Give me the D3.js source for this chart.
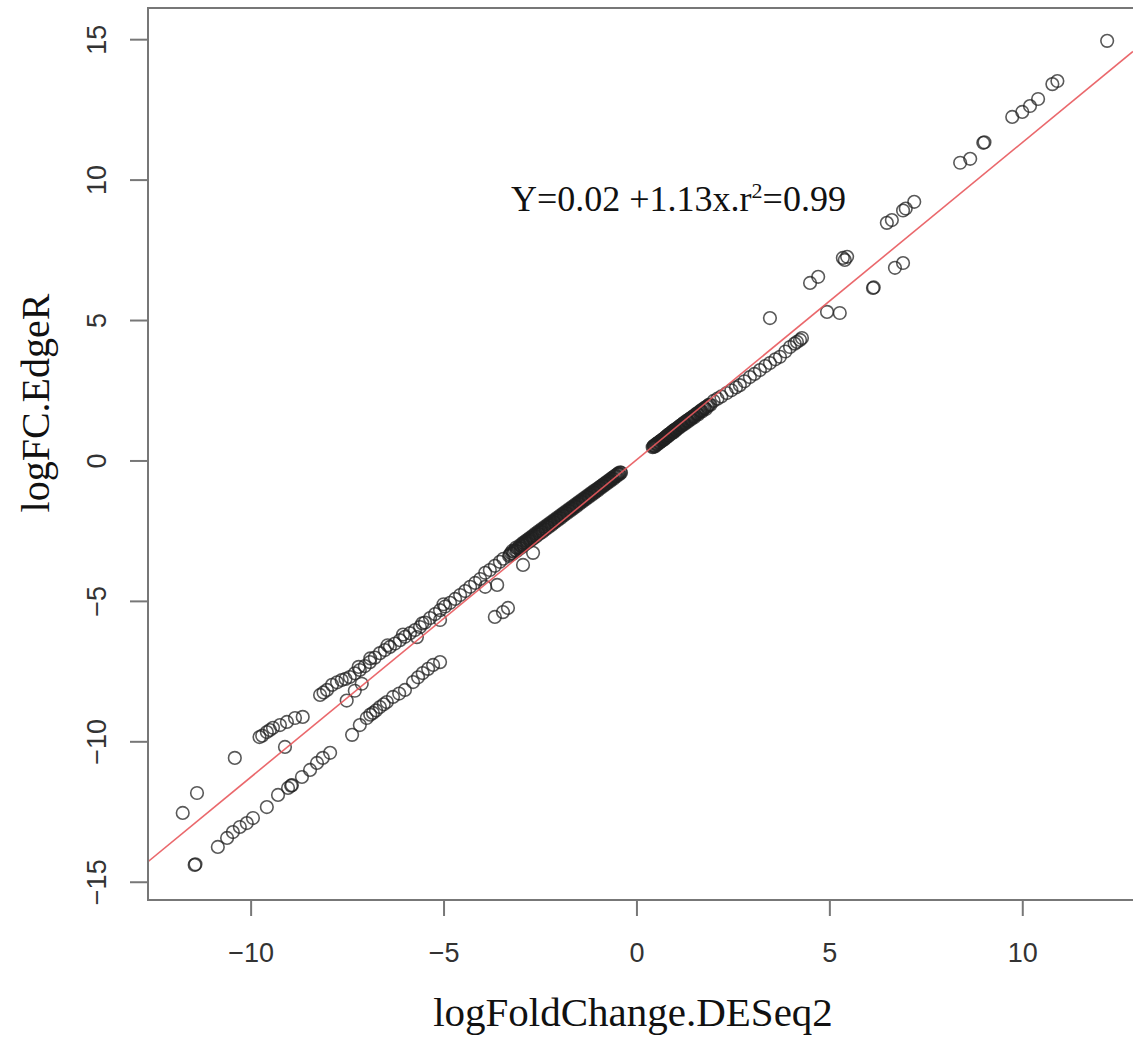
<!DOCTYPE html>
<html>
<head>
<meta charset="utf-8">
<script src="https://cdn.jsdelivr.net/npm/d3@7"></script>
<style>
  html, body { margin: 0; padding: 0; background: #fff; }
  svg { display: block; }
</style>
</head>
<body>
<svg id="chart" width="1133" height="1038"></svg>
<script>
// ---- data (DESeq2 log fold change, EdgeR logFC) ----
var xTickValues = [-10, -5, 0, 5, 10]
var yTickValues = [-15, -10, -5, 0, 5, 10, 15]
var xTitle = 'logFoldChange.DESeq2'
var yTitle = 'logFC.EdgeR'
var fitIntercept = 0.02
var fitSlope = 1.13

// thick band of down-regulated genes next to zero
var denseNeg = [
  [-0.40,-0.44],[-0.44,-0.49],[-0.48,-0.48],[-0.52,-0.57],[-0.56,-0.57],[-0.60,-0.66],
  [-0.64,-0.64],[-0.68,-0.74],[-0.72,-0.73],[-0.76,-0.82],[-0.80,-0.81],[-0.84,-0.90],
  [-0.88,-0.89],[-0.92,-0.98],[-0.96,-0.97],[-1.00,-1.07],[-1.04,-1.05],[-1.08,-1.15],
  [-1.12,-1.13],[-1.16,-1.23],[-1.20,-1.21],[-1.24,-1.31],[-1.28,-1.30],[-1.32,-1.39],
  [-1.36,-1.38],[-1.40,-1.47],[-1.44,-1.46],[-1.48,-1.55],[-1.52,-1.53],[-1.56,-1.64],
  [-1.60,-1.62],[-1.64,-1.72],[-1.68,-1.70],[-1.72,-1.80],[-1.76,-1.78],[-1.80,-1.88],
  [-1.84,-1.86],[-1.88,-1.96],[-1.92,-1.94],[-1.96,-2.05],[-2.00,-2.02],[-2.04,-2.13],
  [-2.08,-2.10],[-2.12,-2.21],[-2.16,-2.18],[-2.20,-2.30],[-2.24,-2.26],[-2.28,-2.38],
  [-2.32,-2.34],[-2.36,-2.46],[-2.40,-2.42],[-2.44,-2.55],[-2.48,-2.50],[-2.52,-2.62],
  [-2.56,-2.58],[-2.60,-2.71],[-2.64,-2.66],[-2.68,-2.79],[-2.72,-2.74],[-2.76,-2.87],
  [-2.80,-2.82],[-2.84,-2.95],[-2.88,-2.90],[-2.92,-3.03],[-2.96,-2.98],[-3.00,-3.12],
  [-3.05,-3.10],[-3.10,-3.22],[-3.15,-3.20],[-3.20,-3.32],[-3.25,-3.30],[-3.30,-3.40],
  [-0.42,-0.42],[-0.46,-0.45],[-0.50,-0.51],[-0.54,-0.53],[-0.58,-0.59],[-0.62,-0.61],
  [-0.66,-0.68],[-0.70,-0.69],[-0.74,-0.76],[-0.78,-0.77],[-0.82,-0.84],[-0.86,-0.85],
  [-0.90,-0.92],[-0.94,-0.93],[-0.98,-1.00],[-1.02,-1.01],[-1.06,-1.09],[-1.10,-1.08],
  [-1.14,-1.17],[-1.18,-1.16],[-1.22,-1.25],[-1.26,-1.24],[-1.30,-1.33],[-1.34,-1.32],
  [-1.38,-1.41],[-1.42,-1.40],[-1.46,-1.49],[-1.50,-1.48],[-1.54,-1.57],[-1.58,-1.56],
  [-1.62,-1.65],[-1.66,-1.64],[-1.70,-1.73],[-1.74,-1.72],[-1.78,-1.81],[-1.82,-1.80],
  [-1.86,-1.90],[-1.90,-1.88],[-1.94,-1.98],[-1.98,-1.96],[-2.02,-2.06],[-2.06,-2.04],
  [-2.10,-2.14],[-2.14,-2.12],[-2.18,-2.23],[-2.22,-2.20],[-2.26,-2.31],[-2.30,-2.28],
  [-2.34,-2.39],[-2.38,-2.36],[-2.42,-2.47],[-2.46,-2.44],[-2.50,-2.55],[-2.54,-2.52],
  [-2.58,-2.63],[-2.62,-2.60],[-2.66,-2.72],[-2.70,-2.69],[-2.74,-2.80],[-2.78,-2.77],
  [-2.82,-2.88],[-2.86,-2.85],[-2.90,-2.96],[-2.94,-2.93],[-2.98,-3.05],[-3.02,-3.02],
  [-3.08,-3.14],[-3.12,-3.10],[-3.18,-3.25],[-3.22,-3.22],[-3.28,-3.35]
]

// thick band of up-regulated genes next to zero
var densePos = [
  [0.42,0.47],[0.45,0.52],[0.48,0.50],[0.51,0.58],[0.54,0.57],[0.57,0.64],[0.60,0.63],
  [0.63,0.70],[0.66,0.69],[0.69,0.76],[0.72,0.75],[0.75,0.83],[0.78,0.82],[0.81,0.90],
  [0.84,0.88],[0.87,0.96],[0.90,0.95],[0.93,1.03],[0.96,1.00],[0.99,1.09],[1.02,1.07],
  [1.06,1.15],[1.10,1.16],[1.14,1.24],[1.18,1.24],[1.22,1.33],[1.26,1.31],[1.30,1.41],
  [1.34,1.39],[1.38,1.48],[1.42,1.47],[1.46,1.56],[1.50,1.54],[1.55,1.65],[1.60,1.64],
  [1.65,1.75],[1.70,1.74],[1.75,1.85],[1.80,1.83],[1.86,1.96],[1.92,1.98],
  [0.44,0.49],[0.47,0.53],[0.50,0.55],[0.53,0.60],[0.56,0.61],[0.59,0.66],[0.62,0.67],
  [0.65,0.72],[0.68,0.73],[0.71,0.78],[0.74,0.80],[0.77,0.85],[0.80,0.86],[0.83,0.92],
  [0.86,0.93],[0.89,0.98],[0.92,0.99],[0.95,1.05],[0.98,1.05],[1.01,1.11],[1.04,1.12],
  [1.08,1.18],[1.12,1.21],[1.16,1.26],[1.20,1.29],[1.24,1.34],[1.28,1.37],[1.32,1.42],
  [1.36,1.45],[1.40,1.50],[1.44,1.53],[1.48,1.58],[1.52,1.61],[1.57,1.68],[1.62,1.71],
  [1.67,1.78],[1.72,1.81],[1.77,1.88],[1.83,1.92],[1.89,1.99]
]

// sparser tail of up-regulated genes
var posTail = [
  [2.00,2.12],[2.10,2.20],[2.20,2.28],[2.34,2.40],[2.46,2.50],[2.58,2.60],[2.68,2.68],
  [2.80,2.82],[2.94,2.97],[3.06,3.08],[3.20,3.22],[3.34,3.36],[3.46,3.47],[3.60,3.60],
  [3.72,3.69],[3.86,3.88],[3.98,4.04],[4.10,4.16],[4.16,4.22],[4.24,4.29],[4.29,4.36]
]

// isolated up-regulated genes
var posOutliers = [
  [3.46,5.07],[4.94,5.29],[5.27,5.25],[4.50,6.32],[4.71,6.54],[5.35,7.21],[5.46,7.25],
  [5.40,7.14],[6.13,6.14],[6.15,6.16],[6.70,6.86],[6.91,7.03],[6.49,8.46],[6.62,8.56],
  [6.91,8.90],[6.98,8.97],[7.20,9.21],[8.39,10.60],[8.65,10.74],[8.99,11.31],[9.02,11.33],
  [9.74,12.23],[10.00,12.41],[10.20,12.62],[10.41,12.87],[10.78,13.40],[10.91,13.51],
  [12.20,14.94]
]

// upper arm of down-regulated genes (close to y = x)
var negUpperArm = [
  [-3.45,-3.50],[-3.54,-3.61],[-3.67,-3.75],[-3.80,-3.90],[-3.92,-4.00],[-4.05,-4.22],
  [-4.18,-4.36],[-4.31,-4.50],[-4.44,-4.65],[-4.57,-4.79],[-4.70,-4.93],[-4.83,-5.07],
  [-4.96,-5.20],[-5.00,-5.12],[-5.09,-5.33],[-5.22,-5.47],[-5.35,-5.61],[-5.48,-5.77],
  [-5.55,-5.80],[-5.61,-5.93],[-5.74,-6.04],[-5.87,-6.15],[-6.00,-6.28],[-6.05,-6.20],
  [-6.13,-6.40],[-6.26,-6.52],[-6.39,-6.64],[-6.45,-6.58],[-6.52,-6.75],[-6.65,-6.86],
  [-6.78,-7.02],[-6.90,-7.05],[-6.91,-7.18],[-7.04,-7.32],[-7.17,-7.46],[-7.20,-7.35],
  [-7.30,-7.58],[-7.43,-7.71],[-7.54,-7.78],[-7.64,-7.82],[-7.76,-7.90],[-7.89,-7.99],
  [-8.02,-8.17],[-8.11,-8.26],[-8.20,-8.35],
  [-8.65,-9.13],[-8.85,-9.17],[-9.06,-9.31],[-9.24,-9.42],[-9.42,-9.52],[-9.50,-9.60],
  [-9.58,-9.67],[-9.70,-9.80],[-9.77,-9.85],
  [-9.11,-10.20],[-10.41,-10.59],[-11.39,-11.84],[-11.76,-12.55]
]

// points under the fitted line among down-regulated genes
var negBelow = [
  [-2.68,-3.29],[-2.94,-3.72],[-3.61,-4.43],[-3.92,-4.50],[-3.33,-5.25],[-3.46,-5.40],
  [-3.67,-5.57],[-5.09,-5.68],[-5.69,-6.29],[-7.12,-7.95],[-7.30,-8.20],[-7.51,-8.55]
]

// lower arm of down-regulated genes (EdgeR more extreme)
var negLowerArm = [
  [-5.09,-7.18],[-5.27,-7.28],[-5.40,-7.42],[-5.54,-7.57],[-5.66,-7.72],[-5.79,-7.89],
  [-6.00,-8.17],[-6.15,-8.30],[-6.31,-8.42],[-6.47,-8.60],[-6.55,-8.68],[-6.65,-8.78],
  [-6.75,-8.90],[-6.83,-8.99],[-6.90,-9.05],[-6.99,-9.17],[-7.17,-9.42],[-7.37,-9.77],
  [-7.94,-10.41],[-8.13,-10.59],[-8.28,-10.77],[-8.46,-11.02],[-8.67,-11.27],
  [-8.93,-11.56],[-8.95,-11.58],[-9.03,-11.66],[-9.29,-11.91],[-9.58,-12.34],
  [-9.94,-12.73],[-10.10,-12.91],[-10.28,-13.05],[-10.46,-13.23],[-10.61,-13.44],
  [-10.85,-13.76],[-11.45,-14.40],[-11.43,-14.38]
]

// ---- layout ----
var width = 1133
var height = 1038
var plotLeft = 148, plotRight = 1133, plotTop = 8, plotBottom = 900

var svg = d3.select('#chart')
svg.append('rect').attr('width', width).attr('height', height).attr('fill', '#fff')

var x = d3.scaleLinear().domain([-12.66, 12.87]).range([plotLeft, plotRight])
var y = d3.scaleLinear().domain([-15.65, 16.11]).range([plotBottom, plotTop])

svg.append('clipPath').attr('id', 'plotclip')
  .append('rect')
  .attr('x', plotLeft).attr('y', plotTop)
  .attr('width', plotRight - plotLeft).attr('height', plotBottom - plotTop)

var allPoints = [].concat(denseNeg, densePos, posTail, posOutliers, negUpperArm, negBelow, negLowerArm)

var pts = svg.append('g').attr('clip-path', 'url(#plotclip)')
pts.selectAll('circle')
  .data(allPoints)
  .enter().append('circle')
  .attr('cx', d => x(d[0]))
  .attr('cy', d => y(d[1]))
  .attr('r', 6.3)
  .attr('fill', 'none')
  .attr('stroke', '#222')
  .attr('stroke-opacity', 0.75)
  .attr('stroke-width', 1.6)

// fitted regression line
var xd = x.domain()
pts.append('line')
  .attr('x1', x(xd[0])).attr('y1', y(fitIntercept + fitSlope * xd[0]))
  .attr('x2', x(xd[1])).attr('y2', y(fitIntercept + fitSlope * xd[1]))
  .attr('stroke', '#e8585c')
  .attr('stroke-opacity', 0.9)
  .attr('stroke-width', 1.6)

// frame (right side runs off the picture)
svg.append('path')
  .attr('d', 'M' + plotRight + ',' + plotTop + 'H' + plotLeft + 'V' + plotBottom + 'H' + plotRight)
  .attr('fill', 'none')
  .attr('stroke', '#777')
  .attr('stroke-width', 2)

// axes
var fmt = d => d < 0 ? '\u2212' + Math.abs(d) : String(d)

var xAxis = svg.append('g')
  .attr('transform', 'translate(0,' + (plotBottom + 1) + ')')
  .call(d3.axisBottom(x).tickValues(xTickValues).tickSize(15).tickFormat(fmt))
xAxis.select('.domain').remove()
xAxis.selectAll('line').attr('stroke', '#777').attr('stroke-width', 2)
xAxis.selectAll('text')
  .attr('y', 61).attr('dy', 0)
  .attr('fill', '#333')
  .style('font-family', '"Liberation Sans", Arial, sans-serif')
  .style('font-size', '27px')

var yAxis = svg.append('g')
  .attr('transform', 'translate(' + (plotLeft - 1) + ',0)')
  .call(d3.axisLeft(y).tickValues(yTickValues).tickSize(17).tickFormat(fmt))
yAxis.select('.domain').remove()
yAxis.selectAll('line').attr('stroke', '#777').attr('stroke-width', 2)
yAxis.selectAll('text')
  .attr('x', 0).attr('y', -41).attr('dy', 0)
  .attr('transform', 'rotate(-90)')
  .attr('text-anchor', 'middle')
  .attr('fill', '#333')
  .style('font-family', '"Liberation Sans", Arial, sans-serif')
  .style('font-size', '27px')

// titles
svg.append('text')
  .attr('x', 633).attr('y', 1026)
  .attr('text-anchor', 'middle')
  .attr('fill', '#111')
  .style('font-family', '"Liberation Serif", "Times New Roman", serif')
  .style('font-size', '41px')
  .text(xTitle)

svg.append('text')
  .attr('transform', 'translate(49,403) rotate(-90)')
  .attr('text-anchor', 'middle')
  .attr('fill', '#111')
  .style('font-family', '"Liberation Serif", "Times New Roman", serif')
  .style('font-size', '40px')
  .text(yTitle)

// regression equation
var eq = svg.append('text')
  .attr('x', 511).attr('y', 211)
  .attr('fill', '#111')
  .style('font-family', '"Liberation Serif", "Times New Roman", serif')
  .style('font-size', '36px')
eq.append('tspan').text('Y=' + fitIntercept.toFixed(2) + ' +' + fitSlope.toFixed(2) + 'x.r')
eq.append('tspan').attr('dy', -13).style('font-size', '22px').text('2')
eq.append('tspan').attr('dy', 13).text('=0.99')
</script>
</body>
</html>
